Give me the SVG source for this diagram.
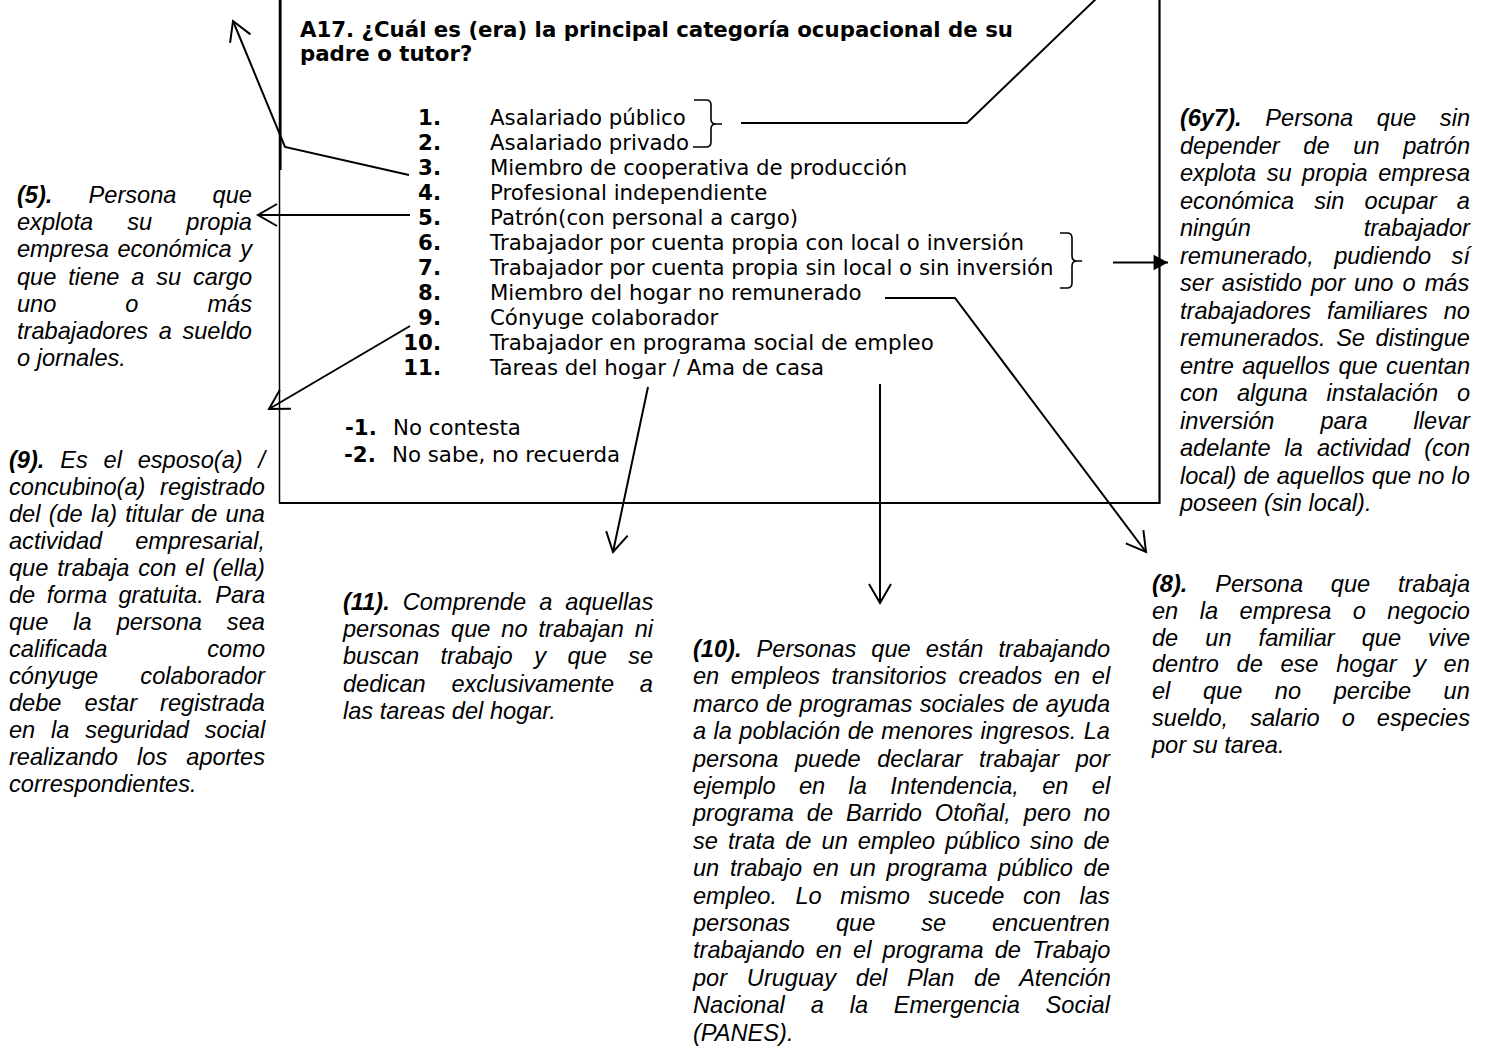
<svg xmlns="http://www.w3.org/2000/svg" width="1497" height="1046" viewBox="0 0 1497 1046">
<defs>
<style>
.lst{font-family:"DejaVu Sans",Verdana,sans-serif;font-size:21.3px;fill:#000}
.b{font-weight:bold}
.num{font-weight:bold;text-anchor:end}
.ann{font-family:"Liberation Sans",Arial,sans-serif;font-size:23.6px;font-style:italic;fill:#000}
.conn{stroke:#000;stroke-width:2;fill:none}
.brk{stroke:#000;stroke-width:1.6;fill:none}
.edge{stroke:#000;fill:none}
</style>
<marker id="open" markerUnits="userSpaceOnUse" markerWidth="30" markerHeight="30" viewBox="-24 -15 28 30" refX="0" refY="0" orient="auto" overflow="visible">
<path d="M-19,-11 L0,0 L-19,11" fill="none" stroke="#000" stroke-width="2"/>
</marker>
<marker id="solid" markerUnits="userSpaceOnUse" markerWidth="20" markerHeight="20" viewBox="-15 -9 17 18" refX="0" refY="0" orient="auto" overflow="visible">
<path d="M-13,-7 L0,0 L-13,7 Z" fill="#000"/>
</marker>
</defs>
<rect x="0" y="0" width="1497" height="1046" fill="#fff"/>

<g id="question-box">
<path class="edge" stroke-width="1.5" d="M279.5,-5 V503"/>
<path class="edge" stroke-width="2.2" d="M280.5,-5 V170"/>
<path class="edge" stroke-width="2.2" d="M279,503 H1159.5 V-5"/>
<text class="lst b" x="300" y="37">A17. ¿Cuál es (era) la principal categoría ocupacional de su</text>
<text class="lst b" x="300" y="61">padre o tutor?</text>
<g class="lst">
<text class="num" x="441" y="125">1.</text><text x="490" y="125">Asalariado público</text>
<text class="num" x="441" y="150">2.</text><text x="490" y="150">Asalariado privado</text>
<text class="num" x="441" y="175">3.</text><text x="490" y="175">Miembro de cooperativa de producción</text>
<text class="num" x="441" y="200">4.</text><text x="490" y="200">Profesional independiente</text>
<text class="num" x="441" y="225">5.</text><text x="490" y="225">Patrón(con personal a cargo)</text>
<text class="num" x="441" y="250">6.</text><text x="490" y="250">Trabajador por cuenta propia con local o inversión</text>
<text class="num" x="441" y="275">7.</text><text x="490" y="275">Trabajador por cuenta propia sin local o sin inversión</text>
<text class="num" x="441" y="300">8.</text><text x="490" y="300">Miembro del hogar no remunerado</text>
<text class="num" x="441" y="325">9.</text><text x="490" y="325">Cónyuge colaborador</text>
<text class="num" x="441" y="350">10.</text><text x="490" y="350">Trabajador en programa social de empleo</text>
<text class="num" x="441" y="375">11.</text><text x="490" y="375">Tareas del hogar / Ama de casa</text>
<text class="b" x="345" y="435">-1.</text><text x="393" y="435">No contesta</text>
<text class="b" x="344" y="462">-2.</text><text x="392" y="462">No sabe, no recuerda</text>
</g>
</g>

<g id="note-5" class="ann">
<text x="17" y="203" style="word-spacing:29.6px"><tspan font-weight="bold">(5).</tspan> Persona que</text>
<text x="17" y="230.2" style="word-spacing:27.6px">explota su propia</text>
<text x="17" y="257.4" style="word-spacing:2.1px">empresa económica y</text>
<text x="17" y="284.6" style="word-spacing:5.3px">que tiene a su cargo</text>
<text x="17" y="311.8" style="word-spacing:62.4px">uno o más</text>
<text x="17" y="339" style="word-spacing:4px">trabajadores a sueldo</text>
<text x="17" y="366.2">o jornales.</text>
</g>

<g id="note-9" class="ann">
<text x="9" y="468" style="word-spacing:9.25px"><tspan font-weight="bold">(9).</tspan> Es el esposo(a) /</text>
<text x="9" y="495" style="word-spacing:8.1px">concubino(a) registrado</text>
<text x="9" y="522" style="word-spacing:1.6px">del (de la) titular de una</text>
<text x="9" y="549" style="word-spacing:26.5px">actividad empresarial,</text>
<text x="9" y="576" style="word-spacing:2.35px">que trabaja con el (ella)</text>
<text x="9" y="603" style="word-spacing:4.9px">de forma gratuita. Para</text>
<text x="9" y="630" style="word-spacing:18.4px">que la persona sea</text>
<text x="9" y="657" style="word-spacing:93.4px">calificada como</text>
<text x="9" y="684" style="word-spacing:35.6px">cónyuge colaborador</text>
<text x="9" y="711" style="word-spacing:16.5px">debe estar registrada</text>
<text x="9" y="738" style="word-spacing:9.3px">en la seguridad social</text>
<text x="9" y="765" style="word-spacing:12.6px">realizando los aportes</text>
<text x="9" y="792">correspondientes.</text>
</g>

<g id="note-11" class="ann">
<text x="343" y="610" style="word-spacing:6.5px"><tspan font-weight="bold">(11).</tspan> Comprende a aquellas</text>
<text x="343" y="637.2" style="word-spacing:4.4px">personas que no trabajan ni</text>
<text x="343" y="664.4" style="word-spacing:14.9px">buscan trabajo y que se</text>
<text x="343" y="691.6" style="word-spacing:19.2px">dedican exclusivamente a</text>
<text x="343" y="718.8">las tareas del hogar.</text>
</g>

<g id="note-10" class="ann">
<text x="693" y="657" style="word-spacing:8.5px"><tspan font-weight="bold">(10).</tspan> Personas que están trabajando</text>
<text x="693" y="684.4" style="word-spacing:5px">en empleos transitorios creados en el</text>
<text x="693" y="711.8" style="word-spacing:0.8px">marco de programas sociales de ayuda</text>
<text x="693" y="739.2" style="word-spacing:0.85px">a la población de menores ingresos. La</text>
<text x="693" y="766.6" style="word-spacing:10.1px">persona puede declarar trabajar por</text>
<text x="693" y="794" style="word-spacing:16.8px">ejemplo en la Intendencia, en el</text>
<text x="693" y="821.4" style="word-spacing:6.3px">programa de Barrido Otoñal, pero no</text>
<text x="693" y="848.8" style="word-spacing:3.5px">se trata de un empleo público sino de</text>
<text x="693" y="876.2" style="word-spacing:4.1px">un trabajo en un programa público de</text>
<text x="693" y="903.6" style="word-spacing:12px">empleo. Lo mismo sucede con las</text>
<text x="693" y="931" style="word-spacing:39.3px">personas que se encuentren</text>
<text x="693" y="958.4" style="word-spacing:4.6px">trabajando en el programa de Trabajo</text>
<text x="693" y="985.8" style="word-spacing:13.2px">por Uruguay del Plan de Atención</text>
<text x="693" y="1013.2" style="word-spacing:19.3px">Nacional a la Emergencia Social</text>
<text x="693" y="1040.6">(PANES).</text>
</g>

<g id="note-6y7" class="ann">
<text x="1180" y="126" style="word-spacing:17.1px"><tspan font-weight="bold">(6y7).</tspan> Persona que sin</text>
<text x="1180" y="153.5" style="word-spacing:17.1px">depender de un patrón</text>
<text x="1180" y="181" style="word-spacing:4px">explota su propia empresa</text>
<text x="1180" y="208.5" style="word-spacing:13.6px">económica sin ocupar a</text>
<text x="1180" y="236" style="word-spacing:106.3px">ningún trabajador</text>
<text x="1180" y="263.5" style="word-spacing:13.8px">remunerado, pudiendo sí</text>
<text x="1180" y="291" style="word-spacing:2.5px">ser asistido por uno o más</text>
<text x="1180" y="318.5" style="word-spacing:9.25px">trabajadores familiares no</text>
<text x="1180" y="346" style="word-spacing:4px">remunerados. Se distingue</text>
<text x="1180" y="373.5" style="word-spacing:1.8px">entre aquellos que cuentan</text>
<text x="1180" y="401" style="word-spacing:12.3px">con alguna instalación o</text>
<text x="1180" y="428.5" style="word-spacing:39.4px">inversión para llevar</text>
<text x="1180" y="456" style="word-spacing:7.5px">adelante la actividad (con</text>
<text x="1180" y="483.5" style="word-spacing:0.5px">local) de aquellos que no lo</text>
<text x="1180" y="511">poseen (sin local).</text>
</g>

<g id="note-8" class="ann">
<text x="1152" y="592" style="word-spacing:21.2px"><tspan font-weight="bold">(8).</tspan> Persona que trabaja</text>
<text x="1152" y="618.8" style="word-spacing:14.9px">en la empresa o negocio</text>
<text x="1152" y="645.6" style="word-spacing:20.5px">de un familiar que vive</text>
<text x="1152" y="672.4" style="word-spacing:11.1px">dentro de ese hogar y en</text>
<text x="1152" y="699.2" style="word-spacing:26px">el que no percibe un</text>
<text x="1152" y="726" style="word-spacing:15.5px">sueldo, salario o especies</text>
<text x="1152" y="752.8">por su tarea.</text>
</g>

<g id="connectors">
<path class="brk" d="M694,100 H706 Q711,100 711,105 V119 Q711,124 716,124 H722 M716,124 Q711,124 711,129 V142 Q711,147 706,147 H693"/>
<path class="brk" d="M1060,233 H1067 Q1072,233 1072,238 V256 Q1072,261 1077,261 H1082 M1077,261 Q1072,261 1072,266 V283 Q1072,288 1067,288 H1060"/>
<path class="conn" d="M409,175 L285,147 L233,21" marker-end="url(#open)"/>
<path class="conn" d="M741,123 H967 L1100,-5"/>
<path class="conn" d="M410,215 H258" marker-end="url(#open)"/>
<path class="conn" d="M410,326 L269,409" marker-end="url(#open)"/>
<path class="conn" stroke-width="2.5" d="M1113,262.5 H1168" marker-end="url(#solid)"/>
<path class="conn" d="M885,298 H955 L1146,552" marker-end="url(#open)"/>
<path class="conn" d="M880,384 V603" marker-end="url(#open)"/>
<path class="conn" d="M648,387 L613,552" marker-end="url(#open)"/>
</g>
</svg>
